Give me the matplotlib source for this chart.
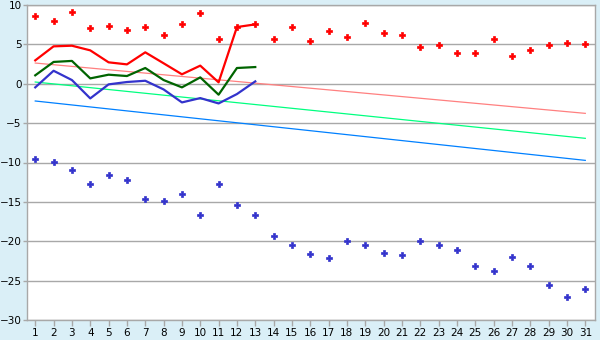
import matplotlib
matplotlib.use("Agg")
import matplotlib.pyplot as plt

days = list(range(1, 32))
red_dots = [8.56, 7.92, 9.07, 7.03, 7.29, 6.78, 7.16, 6.14, 7.54, 8.94, 5.64, 7.2, 7.54,
            5.64, 7.16, 5.38, 6.65, 5.89, 7.67, 6.40, 6.14, 4.62, 4.87, 3.86, 3.86, 5.64,
            3.48, 4.24, 4.87, 5.13, 5.0]
blue_dots = [-9.6, -9.98, -10.9, -12.77, -11.63, -12.26, -14.67, -14.93, -14.04, -16.71,
             -12.77, -15.44, -16.71, -19.37, -20.52, -21.66, -22.17, -20.0, -20.52, -21.53,
             -21.79, -20.0, -20.52, -21.15, -23.18, -23.81, -22.04, -23.18, -25.59, -27.12,
             -26.1]
line_days = list(range(1, 14))
red_line = [2.97, 4.75, 4.83, 4.24, 2.72, 2.46, 3.99, 2.6, 1.2, 2.3, 0.18, 7.2, 7.54]
green_line = [1.07, 2.77, 2.9, 0.68, 1.15, 0.98, 2.0, 0.47, -0.46, 0.81, -1.39, 2.0, 2.12]
blue_line = [-0.46, 1.65, 0.47, -1.86, -0.08, 0.22, 0.38, -0.72, -2.37, -1.82, -2.5, -1.31, 0.3]
trend_days = [1, 31]
trend_red = [2.63, -3.76]
trend_green = [0.22, -6.93]
trend_blue = [-2.19, -9.73]
yticks = [10, 5, 0, -5, -10, -15, -20, -25, -30]

bg = "#DAEFF7"
grid_c = "#A8A8A8"

fig = plt.figure(figsize=(6, 3.4), dpi=100, facecolor=bg)
ax = fig.add_axes([27/600, 1-320/340, (595-27)/600, (320-5)/340])
ax.set_facecolor("white")

ax.plot(trend_days, trend_red, color="#FF8080", lw=0.9, zorder=2)
ax.plot(trend_days, trend_green, color="#00FF80", lw=0.9, zorder=2)
ax.plot(trend_days, trend_blue, color="#0080FF", lw=0.9, zorder=2)

ax.plot(line_days, red_line, color="#FF0000", lw=1.6, zorder=3)
ax.plot(line_days, green_line, color="#006400", lw=1.6, zorder=3)
ax.plot(line_days, blue_line, color="#3333CC", lw=1.6, zorder=3)

ax.plot(days, red_dots, ls="none", marker="P", ms=4.2, color="#FF0000",
        mec="#FF0000", mew=0.5, zorder=4)
ax.plot(days, blue_dots, ls="none", marker="P", ms=4.2, color="#3333CC",
        mec="#3333CC", mew=0.5, zorder=4)

ax.set_xlim(0.55, 31.53)
ax.set_ylim(-30, 10)
ax.set_yticks(yticks)
ax.set_yticklabels([str(v).replace("-", "\u2212") for v in yticks])
ax.set_xticks(days)
ax.set_xticklabels([str(d) for d in days])
ax.yaxis.grid(True, color=grid_c, lw=1.0)
ax.set_axisbelow(True)
for s in ax.spines.values():
    s.set_color(grid_c)
    s.set_linewidth(1.0)
ax.tick_params(axis="both", colors=grid_c, labelcolor="black", labelsize=7.5,
               length=4, width=1, pad=1.5)
ax.tick_params(axis="y", length=3, pad=1)

fig.savefig("out.png", dpi=100, facecolor=bg)
